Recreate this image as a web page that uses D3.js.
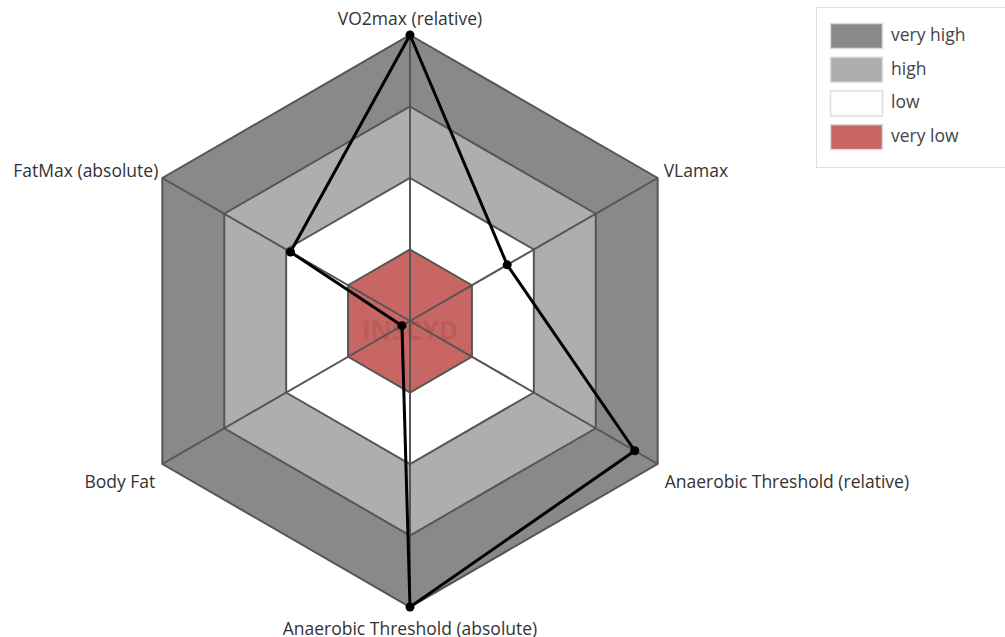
<!DOCTYPE html>
<html>
<head>
<meta charset="utf-8">
<script src="https://cdn.jsdelivr.net/npm/d3@7"></script>
<style>
  body { margin: 0; background: #fff; }
  #canvas { width: 1005px; height: 637px; }
  text { font-family: "Open Sans", sans-serif; }
</style>
</head>
<body>
<div id="canvas"></div>
<script>
// axes, clockwise from top
var axes = ["VO2max (relative)", "VLamax", "Anaerobic Threshold (relative)",
            "Anaerobic Threshold (absolute)", "Body Fat", "FatMax (absolute)"];
var values = [4, 1.57, 3.63, 4, 0.13, 1.93];
// bands, outer to inner
var bands = ["very high", "high", "low", "very low"];
var bandTop = [4, 3, 2, 1];
var bandColors = ["#898989", "#aeaeae", "#ffffff", "#c86664"];

var width = 1005, height = 637;
var cx = 410, cy = 321;

var svg = d3.select("#canvas").append("svg")
  .attr("width", width)
  .attr("height", height);

var r = d3.scaleLinear().domain([0, 4]).range([0, 286]);
var angle = d3.scaleLinear().domain([0, axes.length]).range([-Math.PI / 2, 3 * Math.PI / 2]);

function pt(i, v) {
  return [cx + r(v) * Math.cos(angle(i)), cy + r(v) * Math.sin(angle(i))];
}
var line = d3.line();

// hexagon bands
svg.selectAll("path.band")
  .data(bandTop)
  .enter()
  .append("path")
  .attr("class", "band")
  .attr("d", function(v) { return line(axes.map(function(a, i) { return pt(i, v); })) + "Z"; })
  .attr("fill", function(v, i) { return bandColors[i]; })
  .attr("stroke", "#555")
  .attr("stroke-width", 2);

// spokes
svg.selectAll("line.spoke")
  .data(axes)
  .enter()
  .append("line")
  .attr("x1", cx).attr("y1", cy)
  .attr("x2", function(d, i) { return pt(i, 4)[0]; })
  .attr("y2", function(d, i) { return pt(i, 4)[1]; })
  .attr("stroke", "#555")
  .attr("stroke-width", 2);

// watermark
svg.append("text")
  .attr("x", cx).attr("y", cy + 19)
  .attr("text-anchor", "middle")
  .attr("font-size", "26px")
  .attr("font-weight", "bold")
  .attr("fill", "#8a3a3a")
  .attr("opacity", 0.22)
  .text("INSCYD");

// data polygon
var pts = values.map(function(v, i) { return pt(i, v); });
svg.append("path")
  .attr("d", line(pts) + "Z")
  .attr("fill", "none")
  .attr("stroke", "#000")
  .attr("stroke-width", 3)
  .attr("stroke-linejoin", "round");

svg.selectAll("circle.dot")
  .data(pts)
  .enter()
  .append("circle")
  .attr("cx", function(d) { return d[0]; })
  .attr("cy", function(d) { return d[1]; })
  .attr("r", 4.5)
  .attr("fill", "#000");

// axis labels
var labelPos = [
  {dx: 0, dy: -10, anchor: "middle"},
  {dx: 6, dy: -1, anchor: "start"},
  {dx: 7, dy: 24, anchor: "start"},
  {dx: 0, dy: 28, anchor: "middle"},
  {dx: -7, dy: 24, anchor: "end"},
  {dx: -4, dy: -1, anchor: "end"}
];
svg.selectAll("text.axis")
  .data(axes)
  .enter()
  .append("text")
  .attr("class", "axis")
  .attr("x", function(d, i) { return pt(i, 4)[0] + labelPos[i].dx; })
  .attr("y", function(d, i) { return pt(i, 4)[1] + labelPos[i].dy; })
  .attr("text-anchor", function(d, i) { return labelPos[i].anchor; })
  .attr("font-size", "17.5px")
  .attr("fill", "#333")
  .text(function(d) { return d; });

// legend
var legend = svg.append("g");
legend.append("rect")
  .attr("x", 816.5).attr("y", 7.5)
  .attr("width", 200).attr("height", 160)
  .attr("fill", "#fff")
  .attr("stroke", "#ddd");

var rows = legend.selectAll("g.row")
  .data(bands)
  .enter()
  .append("g")
  .attr("transform", function(d, i) { return "translate(830," + (23 + i * 33.7) + ")"; });

rows.append("rect")
  .attr("x", 0.5).attr("y", 0.5)
  .attr("width", 52).attr("height", 25)
  .attr("fill", function(d, i) { return bandColors[i]; })
  .attr("stroke", "#ddd")
  .attr("stroke-width", 1.5);

rows.append("text")
  .attr("x", 61).attr("y", 18)
  .attr("font-size", "17.5px")
  .attr("fill", "#444")
  .text(function(d) { return d; });
</script>
</body>
</html>
